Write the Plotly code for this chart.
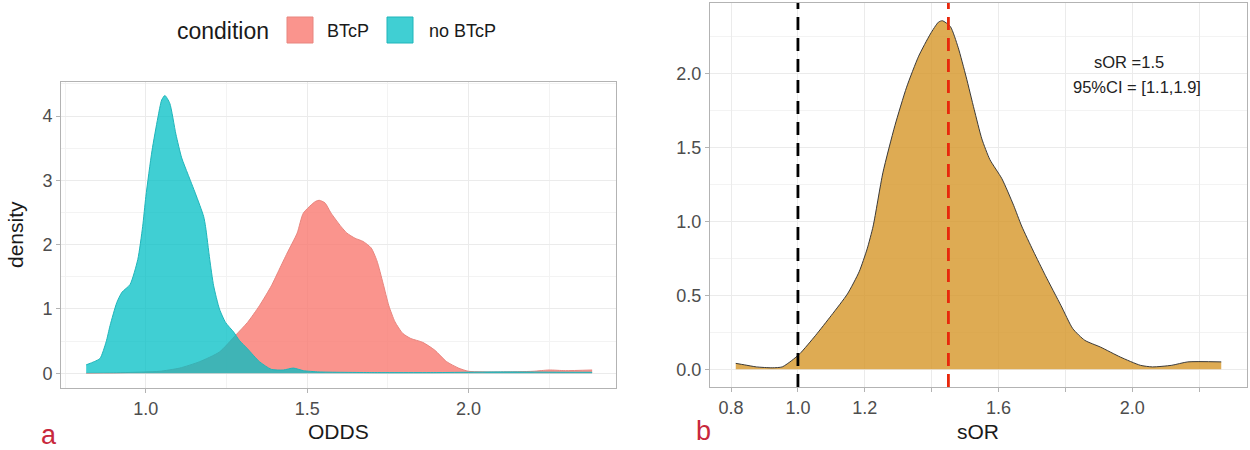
import plotly.graph_objects as go

# ---------------- data ----------------
# Panel a: density of ODDS by condition
btcp_x = [0.815, 0.90, 1.00, 1.043, 1.105, 1.167, 1.228, 1.278, 1.315, 1.352, 1.389, 1.414,
          1.438, 1.469, 1.488, 1.525, 1.537, 1.555, 1.574, 1.605, 1.623, 1.648, 1.673, 1.698,
          1.716, 1.735, 1.753, 1.772, 1.796, 1.821, 1.858, 1.895, 1.932, 1.969, 2.00, 2.10,
          2.20, 2.25, 2.30, 2.383]
btcp_y = [0.00, 0.005, 0.02, 0.03, 0.08, 0.18, 0.33, 0.59, 0.79, 1.05, 1.36, 1.62,
          1.87, 2.18, 2.49, 2.67, 2.69, 2.65, 2.49, 2.28, 2.18, 2.10, 2.05, 1.95,
          1.75, 1.40, 1.05, 0.80, 0.62, 0.54, 0.48, 0.36, 0.18, 0.08, 0.03, 0.02,
          0.03, 0.05, 0.04, 0.05]

nobtcp_x = [0.815, 0.840, 0.858, 0.877, 0.889, 0.910, 0.926, 0.951, 0.975, 0.990, 1.000,
            1.019, 1.037, 1.049, 1.059, 1.074, 1.093, 1.111, 1.130, 1.154, 1.179, 1.185,
            1.198, 1.210, 1.228, 1.247, 1.272, 1.290, 1.315, 1.352, 1.389, 1.426, 1.457,
            1.488, 1.537, 1.70, 1.90, 2.10, 2.30, 2.383]
nobtcp_y = [0.13, 0.18, 0.23, 0.49, 0.74, 1.10, 1.26, 1.38, 1.77, 2.28, 2.75,
            3.46, 3.97, 4.25, 4.32, 4.20, 3.72, 3.35, 3.10, 2.79, 2.44, 2.28,
            1.77, 1.36, 1.00, 0.79, 0.64, 0.51, 0.38, 0.18, 0.06, 0.05, 0.08,
            0.04, 0.02, 0.01, 0.01, 0.02, 0.015, 0.015]

# Panel b: density of sOR
sor_x = [0.814, 0.84, 0.876, 0.923, 0.953, 0.982, 1.006, 1.053, 1.10, 1.148, 1.183, 1.207,
         1.225, 1.254, 1.29, 1.325, 1.361, 1.396, 1.42, 1.432, 1.456, 1.479, 1.503, 1.527,
         1.55, 1.574, 1.61, 1.645, 1.669, 1.704, 1.74, 1.787, 1.822, 1.858, 1.905, 1.964,
         2.024, 2.06, 2.118, 2.166, 2.266]
sor_y = [0.04, 0.03, 0.016, 0.01, 0.016, 0.06, 0.106, 0.23, 0.365, 0.51, 0.66, 0.815,
         0.97, 1.33, 1.65, 1.91, 2.12, 2.27, 2.35, 2.36, 2.32, 2.18, 1.98, 1.76,
         1.56, 1.42, 1.29, 1.11, 0.97, 0.80, 0.635, 0.43, 0.275, 0.196, 0.15, 0.083,
         0.027, 0.016, 0.027, 0.05, 0.05]

null_value = 1.0
sor_estimate = 1.45
annot_lines = ["sOR =1.5", "95%CI = [1.1,1.9]"]

conditions = ["BTcP", "no BTcP"]
left_xticks = [1.0, 1.5, 2.0]
left_yticks = [0, 1, 2, 3, 4]
right_xticks = [0.8, 1.0, 1.2, 1.4, 1.6, 1.8, 2.0, 2.2]
right_xlabels = ["0.8", "1.0", "1.2", "", "1.6", "", "2.0", ""]
right_yticks = [0.0, 0.5, 1.0, 1.5, 2.0]

# ---------------- figure ----------------
FONT = "Liberation Sans, Arial, sans-serif"
W, H = 1250, 450
fig = go.Figure()

fill_colors = ["rgba(248,118,109,0.78)", "rgba(0,191,196,0.75)"]
line_colors = ["#E8857E", "#1FB5BA"]

fig.add_trace(go.Scatter(x=btcp_x, y=btcp_y, mode="lines", fill="tozeroy", name=conditions[0],
                         showlegend=False,
                         line=dict(color=line_colors[0], width=1, shape="spline", smoothing=0.6),
                         fillcolor=fill_colors[0], xaxis="x", yaxis="y"))
fig.add_trace(go.Scatter(x=nobtcp_x, y=nobtcp_y, mode="lines", fill="tozeroy", name=conditions[1],
                         showlegend=False,
                         line=dict(color=line_colors[1], width=1, shape="spline", smoothing=0.6),
                         fillcolor=fill_colors[1], xaxis="x", yaxis="y"))
fig.add_trace(go.Scatter(x=sor_x, y=sor_y, mode="lines", fill="tozeroy", showlegend=False,
                         line=dict(color="#3a3a3a", width=1, shape="spline", smoothing=0.6),
                         fillcolor="rgba(214,150,40,0.8)", xaxis="x2", yaxis="y2"))

grid = "#EBEBEB"
minor_grid = "#F3F3F3"
border = "#B3B3B3"
tickfont = dict(family=FONT, size=18, color="#4D4D4D")

common = dict(showline=True, mirror=True, linecolor=border, linewidth=1, zeroline=False,
              showgrid=True, gridcolor=grid, gridwidth=1, ticks="outside", ticklen=4,
              tickcolor=border, tickfont=tickfont, fixedrange=True)

L = [61 / W, 616 / W]
LY = [1 - 388 / H, 1 - 82 / H]
R = [710 / W, 1247 / W]
RY = [1 - 387 / H, 1 - 3 / H]

fig.update_layout(
    width=W, height=H, margin=dict(l=0, r=0, t=0, b=0),
    paper_bgcolor="white", plot_bgcolor="white",
    font=dict(family=FONT),
    showlegend=False,
    xaxis=dict(domain=L, range=[0.737, 2.457], anchor="y", tickmode="array",
               tickvals=left_xticks, ticktext=[f"{v:.1f}" for v in left_xticks],
               minor=dict(tick0=0.75, dtick=0.5, showgrid=True, gridcolor=minor_grid,
                          gridwidth=0.8, ticks=""), **common),
    yaxis=dict(domain=LY, range=[-0.23, 4.53], anchor="x", tickmode="array",
               tickvals=left_yticks, ticktext=[str(v) for v in left_yticks],
               minor=dict(tick0=0.5, dtick=1, showgrid=True, gridcolor=minor_grid,
                          gridwidth=0.8, ticks=""), **common),
    xaxis2=dict(domain=R, range=[0.737, 2.343], anchor="y2", tickmode="array",
                tickvals=right_xticks, ticktext=right_xlabels, **common),
    yaxis2=dict(domain=RY, range=[-0.12, 2.48], anchor="x2", tickmode="array",
                tickvals=right_yticks, ticktext=[f"{v:.1f}" for v in right_yticks],
                minor=dict(tick0=0.25, dtick=0.5, showgrid=True, gridcolor=minor_grid,
                           gridwidth=0.8, ticks=""), **common),
)

# dashed reference lines on panel b
fig.add_shape(type="line", xref="x2", yref="y2 domain", x0=null_value, x1=null_value, y0=0, y1=1,
              line=dict(color="black", width=2.8, dash="13px,8px"))
fig.add_shape(type="line", xref="x2", yref="y2 domain", x0=sor_estimate, x1=sor_estimate, y0=0, y1=1,
              line=dict(color="#E8280C", width=2.8, dash="13px,8px"))

# legend (drawn as swatches + text)
sw_x = [(287, 313), (387, 413)]
lab_x = [325, 427]
for i, name in enumerate(conditions):
    fig.add_shape(type="rect", xref="paper", yref="paper",
                  x0=sw_x[i][0] / W, x1=sw_x[i][1] / W, y0=1 - 43 / H, y1=1 - 17 / H,
                  fillcolor=fill_colors[i], line=dict(color=line_colors[i], width=1))

ann = []
ann.append(dict(text="condition", x=175 / W, y=1 - 31 / H, xref="paper", yref="paper",
                showarrow=False, font=dict(family=FONT, size=23, color="#1A1A1A"),
                xanchor="left", yanchor="middle"))
for i, name in enumerate(conditions):
    ann.append(dict(text=name, x=lab_x[i] / W, y=1 - 31 / H, xref="paper", yref="paper",
                    showarrow=False, font=dict(family=FONT, size=18, color="#1A1A1A"),
                    xanchor="left", yanchor="middle"))
# axis titles
ann.append(dict(text="ODDS", x=(L[0] + L[1]) / 2, y=1 - 431 / H, xref="paper", yref="paper",
                showarrow=False, font=dict(family=FONT, size=21, color="#1A1A1A"),
                xanchor="center", yanchor="middle"))
ann.append(dict(text="density", x=15 / W, y=(LY[0] + LY[1]) / 2, xref="paper", yref="paper",
                showarrow=False, textangle=-90, font=dict(family=FONT, size=21, color="#1A1A1A"),
                xanchor="center", yanchor="middle"))
ann.append(dict(text="sOR", x=(R[0] + R[1]) / 2, y=1 - 431 / H, xref="paper", yref="paper",
                showarrow=False, font=dict(family=FONT, size=21, color="#1A1A1A"),
                xanchor="center", yanchor="middle"))
# panel letters
ann.append(dict(text="a", x=49 / W, y=1 - 435 / H, xref="paper", yref="paper", showarrow=False,
                font=dict(family=FONT, size=27, color="#C8283C"), xanchor="center", yanchor="middle"))
ann.append(dict(text="b", x=703 / W, y=1 - 431 / H, xref="paper", yref="paper", showarrow=False,
                font=dict(family=FONT, size=27, color="#C8283C"), xanchor="center", yanchor="middle"))
# estimate text
ann.append(dict(text=annot_lines[0], x=1129 / W, y=1 - 62 / H, xref="paper", yref="paper",
                showarrow=False, font=dict(family=FONT, size=16.5, color="#222222"),
                xanchor="center", yanchor="middle"))
ann.append(dict(text=annot_lines[1], x=1137 / W, y=1 - 87 / H, xref="paper", yref="paper",
                showarrow=False, font=dict(family=FONT, size=16.5, color="#222222"),
                xanchor="center", yanchor="middle"))
fig.update_layout(annotations=ann)

fig.write_html("out.html")
